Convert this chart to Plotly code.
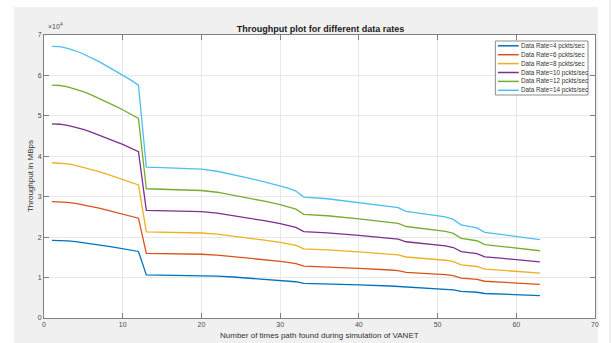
import plotly.graph_objects as go

# x positions (number of times path found)
path_count = [1, 2, 3, 4, 5, 6, 7, 8, 9, 10, 11, 12, 13, 15, 17, 20, 22, 24, 26, 28, 30, 31, 32, 33,
              36, 40, 44, 45, 46, 48, 51, 52, 53, 55, 56, 58, 60, 63]

# throughput values in units of 1e4 MBps
rate4 = [1.920, 1.917, 1.906, 1.889, 1.866, 1.840, 1.811, 1.780, 1.749, 1.717, 1.683, 1.646, 1.066,
         1.063, 1.060, 1.051, 1.037, 1.014, 0.989, 0.963, 0.934, 0.917, 0.897, 0.854, 0.843, 0.817,
         0.791, 0.780, 0.754, 0.740, 0.714, 0.697, 0.657, 0.637, 0.606, 0.591, 0.577, 0.554]
rate6 = [2.880, 2.876, 2.859, 2.833, 2.799, 2.760, 2.717, 2.670, 2.623, 2.576, 2.524, 2.469, 1.599,
         1.594, 1.590, 1.577, 1.556, 1.521, 1.483, 1.444, 1.401, 1.376, 1.346, 1.281, 1.264, 1.226,
         1.187, 1.170, 1.131, 1.110, 1.071, 1.046, 0.986, 0.956, 0.909, 0.887, 0.866, 0.831]
rate8 = [3.840, 3.834, 3.811, 3.777, 3.731, 3.680, 3.623, 3.560, 3.497, 3.434, 3.366, 3.291, 2.131,
         2.126, 2.120, 2.103, 2.074, 2.029, 1.977, 1.926, 1.869, 1.834, 1.794, 1.709, 1.686, 1.634,
         1.583, 1.560, 1.509, 1.480, 1.429, 1.394, 1.314, 1.274, 1.211, 1.183, 1.154, 1.109]
rate10 = [4.800, 4.793, 4.764, 4.721, 4.664, 4.600, 4.529, 4.450, 4.371, 4.293, 4.207, 4.114, 2.664,
          2.657, 2.650, 2.629, 2.593, 2.536, 2.471, 2.407, 2.336, 2.293, 2.243, 2.136, 2.107, 2.043,
          1.979, 1.950, 1.886, 1.850, 1.786, 1.743, 1.643, 1.593, 1.514, 1.479, 1.443, 1.386]
rate12 = [5.760, 5.751, 5.717, 5.666, 5.597, 5.520, 5.434, 5.340, 5.246, 5.151, 5.049, 4.937, 3.197,
          3.189, 3.180, 3.154, 3.111, 3.043, 2.966, 2.889, 2.803, 2.751, 2.691, 2.563, 2.529, 2.451,
          2.374, 2.340, 2.263, 2.220, 2.143, 2.091, 1.971, 1.911, 1.817, 1.774, 1.731, 1.663]
rate14 = [6.72, 6.71, 6.67, 6.61, 6.53, 6.44, 6.34, 6.23, 6.12, 6.01, 5.89, 5.76, 3.73,
          3.72, 3.71, 3.68, 3.63, 3.55, 3.46, 3.37, 3.27, 3.21, 3.14, 2.99, 2.95, 2.86,
          2.77, 2.73, 2.64, 2.59, 2.50, 2.44, 2.30, 2.23, 2.12, 2.07, 2.02, 1.94]

series_names = ["Data Rate=4 pckts/sec", "Data Rate=6 pckts/sec", "Data Rate=8 pckts/sec",
                "Data Rate=10 pckts/sec", "Data Rate=12 pckts/sec", "Data Rate=14 pckts/sec"]
series_values = [rate4, rate6, rate8, rate10, rate12, rate14]
colors = ["#0072BD", "#D95319", "#EDB120", "#7E2F8E", "#77AC30", "#4DBEEE"]

x_ticks = [0, 10, 20, 30, 40, 50, 60, 70]
y_ticks = [0, 1, 2, 3, 4, 5, 6, 7]

FONT = "Liberation Sans"

fig = go.Figure()
for name, vals, col in zip(series_names, series_values, colors):
    fig.add_trace(go.Scatter(x=path_count, y=vals, mode="lines", name=name,
                             line=dict(color=col, width=1.3), showlegend=False))

# figure size: 611x343; plot area from x=44..597, y=35..318
W, H = 611, 343
L, R, T, B = 44, 14, 35, 25
pw, ph = W - L - R, H - T - B

def px(xp):
    return (xp - L) / pw

def py(yp):
    return (H - B - yp) / ph

shapes = [
    # white strips around the gray figure area
    dict(type="rect", xref="paper", yref="paper", x0=px(0), x1=px(W), y0=py(7), y1=py(0),
         fillcolor="white", line=dict(width=0), layer="below"),
    dict(type="rect", xref="paper", yref="paper", x0=px(0), x1=px(14), y0=py(H), y1=py(0),
         fillcolor="white", line=dict(width=0), layer="below"),
    dict(type="rect", xref="paper", yref="paper", x0=px(600), x1=px(W), y0=py(H), y1=py(0),
         fillcolor="white", line=dict(width=0), layer="below"),
    # legend box (compact, MATLAB style)
    dict(type="rect", xref="paper", yref="paper", x0=px(497), x1=px(590), y0=py(95), y1=py(41),
         fillcolor="white", line=dict(color="#8c8c8c", width=1), layer="above"),
]

annotations = [
    dict(text="×10<sup>4</sup>", xref="paper", yref="paper",
         x=px(46), y=py(32), xanchor="left", yanchor="bottom", showarrow=False,
         font=dict(family=FONT, size=7, color="#4d4d4d")),
    dict(text="Number of times path found during simulation of VANET", xref="paper", yref="paper",
         x=px(320.5), y=py(335), xanchor="center", yanchor="middle", showarrow=False,
         font=dict(family=FONT, size=8, color="#333")),
    dict(text="Throughput in MBps", xref="paper", yref="paper", textangle=-90,
         x=px(30), y=py(176), xanchor="center", yanchor="middle", showarrow=False,
         font=dict(family=FONT, size=8, color="#333")),
]

legend_rows = [45.8, 54.7, 63.6, 72.5, 81.4, 90.3]
for name, col, yr in zip(series_names, colors, legend_rows):
    shapes.append(dict(type="line", xref="paper", yref="paper", x0=px(499.5), x1=px(520.5),
                       y0=py(yr), y1=py(yr), line=dict(color=col, width=1.5), layer="above"))
    annotations.append(dict(text=name, xref="paper", yref="paper", x=px(520.5), y=py(yr),
                            xanchor="left", yanchor="middle", showarrow=False,
                            font=dict(family=FONT, size=6.3, color="#333")))

axis_common = dict(showline=True, linecolor="#808080", linewidth=1, mirror="ticks",
                   ticks="inside", ticklen=5, tickcolor="#808080",
                   showgrid=True, gridcolor="#e8e8e8", gridwidth=1, zeroline=False,
                   tickfont=dict(family=FONT, size=7, color="#4d4d4d"))

fig.update_layout(
    width=W, height=H,
    margin=dict(l=L, r=R, t=T, b=B, pad=0),
    paper_bgcolor="#F0F0F0",
    plot_bgcolor="white",
    shapes=shapes,
    annotations=annotations,
    showlegend=False,
    title=dict(text="<b>Throughput plot for different data rates</b>",
               x=(L + pw / 2) / W, xanchor="center", y=1 - 29 / H, yanchor="middle",
               font=dict(family=FONT, size=9, color="#1a1a1a")),
    xaxis=dict(range=[0, 70], tickvals=x_ticks, ticktext=[str(v) for v in x_ticks],
               **axis_common),
    yaxis=dict(range=[0, 7], tickvals=y_ticks, ticktext=[str(v) for v in y_ticks],
               **axis_common),
)

fig.write_html("out.html")
